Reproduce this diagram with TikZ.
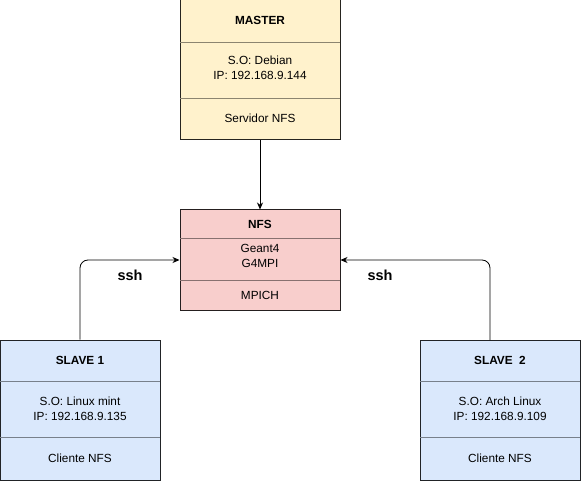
\documentclass[tikz,border=0pt]{standalone}
\usepackage{fontspec}
\setmainfont{Liberation Sans}
\usetikzlibrary{arrows.meta}
\definecolor{masterfill}{HTML}{FFF2CC}
\definecolor{nfsfill}{HTML}{F8CECC}
\definecolor{slavefill}{HTML}{DAE8FC}
\tikzset{
  hostbox/.style={draw=#1!15!black,fill=#1,line width=1pt,minimum width=160pt,inner sep=0pt},
  part/.style={draw=#1!55!black,line width=0.8pt},
  txt/.style={align=center,font=\fontsize{11.8}{15}\selectfont},
  ttl/.style={txt,font=\fontsize{11.8}{15}\selectfont\bfseries},
  lbl/.style={font=\fontsize{14.5}{16}\selectfont\bfseries},
  link/.style={-{Stealth[length=7pt,width=6pt]},line width=0.8pt,rounded corners=8pt}
}
\begin{document}
\begin{tikzpicture}[x=1pt,y=-1pt]
\useasboundingbox (0,0) rectangle (581,481);
% master
\node[hostbox=masterfill,minimum height=140pt] (master) at (260,70) {};
\draw[part=masterfill] (180,42) -- (340,42);
\draw[part=masterfill] (180,98) -- (340,98);
\node[ttl] (mtitle) at (260,20) {MASTER};
\node[txt] (minfo) at (260,68) {S.O: Debian\\IP: 192.168.9.144};
\node[txt] (mrole) at (260,118) {Servidor NFS};
% nfs
\node[hostbox=nfsfill,minimum height=100pt] (nfs) at (260,260) {};
\draw[part=nfsfill] (180,238) -- (340,238);
\draw[part=nfsfill] (180,280) -- (340,280);
\node[ttl] (ntitle) at (260,224) {NFS};
\node[txt] (ninfo) at (260,256) {Geant4\\G4MPI};
\node[txt] (nrole) at (260,295) {MPICH};
% slave 1
\node[hostbox=slavefill,minimum height=140pt] (slave1) at (80,410) {};
\draw[part=slavefill] (0,381) -- (160,381);
\draw[part=slavefill] (0,437) -- (160,437);
\node[ttl] (s1title) at (80,360) {SLAVE 1};
\node[txt] (s1info) at (80,409) {S.O: Linux mint\\IP: 192.168.9.135};
\node[txt] (s1role) at (80,458) {Cliente NFS};
% slave 2
\node[hostbox=slavefill,minimum height=140pt] (slave2) at (500,410) {};
\draw[part=slavefill] (420,381) -- (580,381);
\draw[part=slavefill] (420,437) -- (580,437);
\node[ttl] (s2title) at (500,360) {SLAVE\ \ 2};
\node[txt] (s2info) at (500,409) {S.O: Arch Linux\\IP: 192.168.9.109};
\node[txt] (s2role) at (500,458) {Cliente NFS};
% links
\draw[link] (master.south) -- (nfs.north);
\draw[link] (slave1.north) |- (nfs.west);
\coordinate (s2up) at (490,340);
\draw[link] (s2up) |- (nfs.east);
\node[lbl] (ssh1) at (130,275) {ssh};
\node[lbl] (ssh2) at (380,275) {ssh};

\end{tikzpicture}
\end{document}
